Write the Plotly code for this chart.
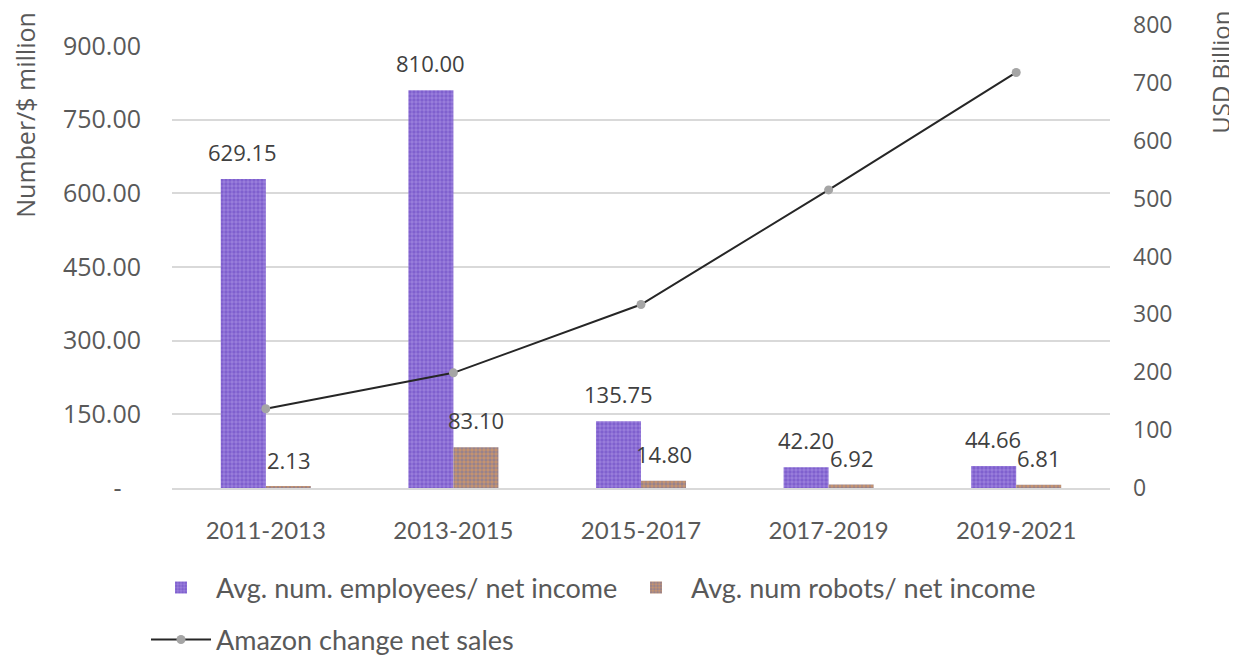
import plotly.graph_objects as go

# data
periods = ["2011-2013", "2013-2015", "2015-2017", "2017-2019", "2019-2021"]
employees_per_income = [629.15, 810.00, 135.75, 42.20, 44.66]
robots_per_income = [2.13, 83.10, 14.80, 6.92, 6.81]
net_sales_change = [137, 199, 317, 515, 718]

left_ticks = [0, 150, 300, 450, 600, 750, 900]
left_ticktext = ["-\u00a0\u00a0\u00a0"] + ["%.2f" % v for v in left_ticks[1:]]
right_ticks = [0, 100, 200, 300, 400, 500, 600, 700, 800]

grey = "#595959"
tickfont = dict(family="Open Sans", size=25, color=grey)
rtickfont = dict(family="Open Sans", size=23, color=grey)
legfont = dict(family="Lato", size=27, color=grey)

# page body adds an 8px margin, so the figure is 8px smaller than the window
W, H = 1229, 647
T, B = 17, 167
ph = H - T - B

fig = go.Figure()

fig.add_trace(go.Bar(
    x=periods, y=employees_per_income, name="Avg. num. employees/ net income",
    marker=dict(color="#9a80dc", line=dict(width=0),
                pattern=dict(shape=".", fgcolor="#6440c0", size=4, solidity=0.55)),
    legend="legend",
))
fig.add_trace(go.Bar(
    x=periods, y=robots_per_income, name="Avg. num robots/ net income",
    marker=dict(color="#c8956e", line=dict(width=0),
                pattern=dict(shape=".", fgcolor="#6870a8", size=4, solidity=0.6)),
    legend="legend2",
))
fig.add_trace(go.Scatter(
    x=periods, y=net_sales_change, name="Amazon change net sales",
    mode="lines+markers", yaxis="y2",
    line=dict(color="#262626", width=2),
    marker=dict(color="#a5a5a5", size=9),
    legend="legend3",
))

# data labels above the bars
annotations = []
for i, p in enumerate(periods):
    annotations.append(dict(x=p, y=employees_per_income[i], xref="x", yref="y",
                            text="%.2f" % employees_per_income[i], showarrow=False,
                            xshift=-23, yshift=27, yanchor="middle",
                            font=dict(family="Open Sans", size=22, color="#404040")))
    annotations.append(dict(x=p, y=robots_per_income[i], xref="x", yref="y",
                            text="%.2f" % robots_per_income[i], showarrow=False,
                            xshift=23, yshift=27, yanchor="middle",
                            font=dict(family="Open Sans", size=22, color="#404040")))

# axis titles sit near the top
annotations.append(dict(text="Number/$ million", xref="paper", yref="paper",
                        x=-0.157, y=(480 - 107) / ph, textangle=-90, showarrow=False,
                        xanchor="center", yanchor="middle",
                        font=dict(family="Open Sans", size=25, color=grey)))
annotations.append(dict(text="USD Billion", xref="paper", yref="paper",
                        x=1.117, y=(480 - 64) / ph, textangle=-90, showarrow=False,
                        xanchor="center", yanchor="middle",
                        font=dict(family="Open Sans", size=24, color=grey)))

fig.update_layout(
    width=W, height=H,
    margin=dict(l=164, r=127, t=T, b=B, autoexpand=False),
    paper_bgcolor="white", plot_bgcolor="rgba(0,0,0,0)",
    barmode="group", bargap=0.52, bargroupgap=0,
    xaxis=dict(tickfont=dict(family="Lato", size=24, color=grey),
               showline=True, linecolor="#d9d9d9", linewidth=1.5,
               ticks="", ticklabelstandoff=20, showgrid=False),
    yaxis=dict(domain=[0, 442 / ph], range=[0, 900], tickvals=left_ticks,
               ticktext=left_ticktext, tickfont=tickfont, ticklabelstandoff=30,
               showgrid=True, gridcolor="#d9d9d9", gridwidth=1.5,
               zeroline=False, showline=False),
    yaxis2=dict(domain=[0, 1], range=[0, 800], tickvals=right_ticks,
                anchor="x", side="right", tickfont=rtickfont, ticklabelstandoff=22,
                ticklabeloverflow="allow",
                showgrid=False, zeroline=False, showline=False),
    legend=dict(orientation="h", xref="container", yref="container",
                x=138 / W, xanchor="left", y=(H - 580) / H, yanchor="middle",
                font=legfont, itemwidth=60),
    legend2=dict(orientation="h", xref="container", yref="container",
                 x=613 / W, xanchor="left", y=(H - 580) / H, yanchor="middle",
                 font=legfont, itemwidth=60),
    legend3=dict(orientation="h", xref="container", yref="container",
                 x=138 / W, xanchor="left", y=(H - 632) / H, yanchor="middle",
                 font=legfont, itemwidth=60),
    annotations=annotations,
    showlegend=True,
)

fig.write_html("out.html")
